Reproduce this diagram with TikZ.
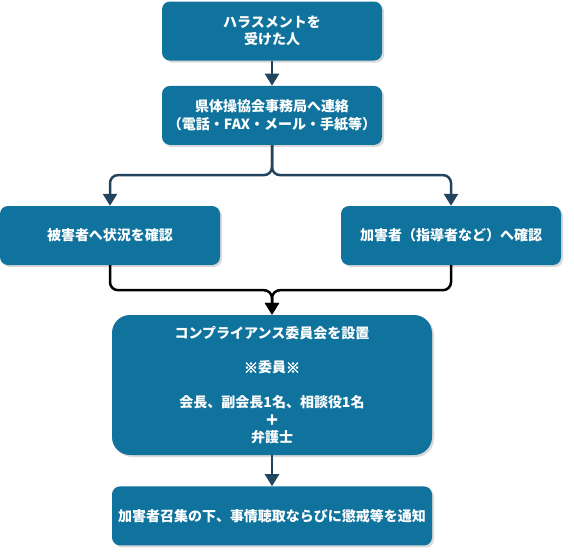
\documentclass[tikz,border=0pt]{standalone}
\usepackage{fontspec}
\setmainfont{Noto Sans CJK JP}
\newfontfamily\markfont[BoldFeatures={FakeBold=3}]{Noto Sans CJK JP}
\usepackage{xcolor}
\usetikzlibrary{arrows.meta, positioning, shadows}
\definecolor{boxblue}{HTML}{10739E}
\definecolor{linkblue}{HTML}{23445D}

\begin{document}
\begin{tikzpicture}[x=1pt, y=-1pt, node distance=25pt, >={Triangle[width=14pt,length=12pt]}]
  \tikzstyle{box} = [rectangle, rounded corners=8pt, fill=boxblue, text=white, align=center, font=\bfseries\fontsize{14}{17.5}\selectfont, minimum width=220pt, minimum height=59pt, inner sep=0pt, drop shadow={shadow xshift=2pt, shadow yshift=-2pt, opacity=0.3}]
  \tikzstyle{bigbox} = [box, rounded corners=18pt, minimum width=320pt, minimum height=140pt]
  \tikzstyle{link} = [->, draw=linkblue, line width=2.5pt, rounded corners=8pt]
  \tikzstyle{merge} = [link, draw=black]

  \useasboundingbox (0,0) rectangle (574,560);

  \node[box] (report) at (272,31) {ハラスメントを\\受けた人};
  \node[box] (contact) [below=of report] {県体操協会事務局へ連絡\\（電話・FAX・メール・手紙等）};
  \node[box] (victim) at (110,235.5) {被害者へ状況を確認};
  \node[box] (accused) at (451,235.5) {加害者（指導者など）へ確認};
  \node[bigbox] (committee) at (272,385) {コンプライアンス委員会を設置\\[17pt]{\markfont ※}委員{\markfont ※}\\[17pt]会長、副会長1名、相談役1名\\{\markfont ＋}\\弁護士};
  \node[box, minimum width=320pt] (notice) [below=31pt of committee] {加害者召集の下、事情聴取ならびに懲戒等を通知};

  \draw[link] (report) -- (contact);
  \draw[link] (contact.south) -- ++(0,30) -| (victim.north);
  \draw[link] (contact.south) -- ++(0,30) -| (accused.north);
  \draw[merge] (victim.south) -- ++(0,25) -| (committee.north);
  \draw[merge] (accused.south) -- ++(0,25) -| (committee.north);
  \draw[link] (committee) -- (notice);
\end{tikzpicture}
\end{document}
